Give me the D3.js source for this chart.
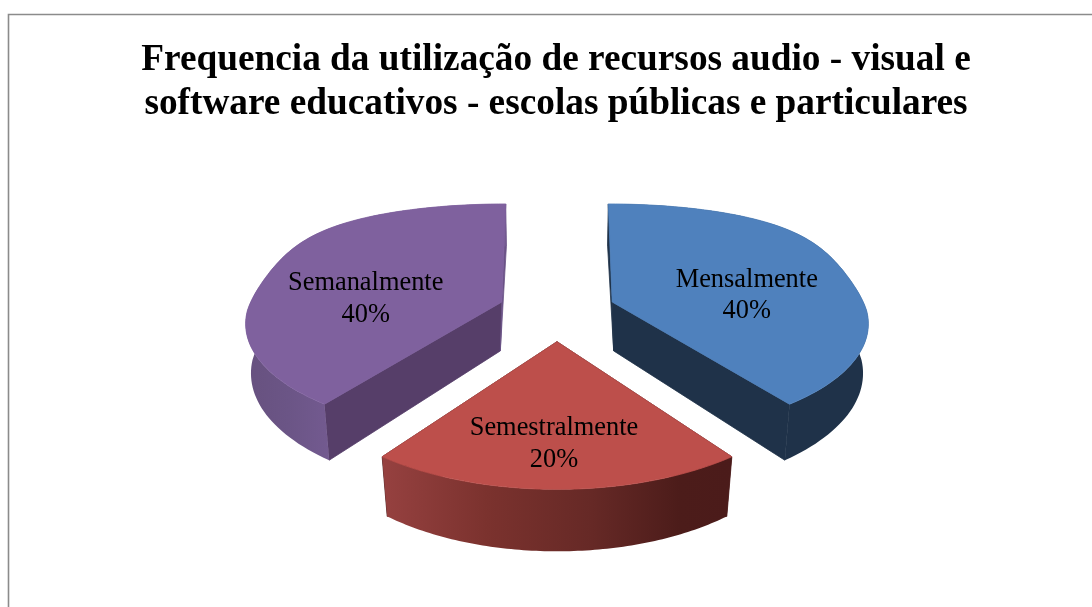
<!DOCTYPE html>
<html lang="pt">
<head>
<meta charset="utf-8">
<script src="https://cdn.jsdelivr.net/npm/d3@7/dist/d3.min.js"></script>
<style>
html,body{margin:0;padding:0;background:#fff;overflow:hidden}
svg{display:block;filter:blur(0.4px)}
text{font-family:"Liberation Serif","Times New Roman",serif;fill:#000}
</style>
</head>
<body>
<svg id="c" width="1092" height="607"></svg>
<script>
// Data
const categories = ["Mensalmente", "Semestralmente", "Semanalmente"];
const values = [40, 20, 40];
const titleLines = [
  "Frequencia da utilização de recursos audio - visual e",
  "software educativos - escolas públicas e particulares"
];

// Appearance of each slice, in category order
const topColors = ["#4f81bd", "#bd4f4b", "#7f619e"];
const wallColors = ["#1f3249", "#4b1b1a", "#563e69"];
const backWallColors = ["#1f3249", "#4b1b1a", "#6b5387"];
const rimStops = [
  [[0, "#1f3249"], [1, "#1f3249"]],
  [[0, "#964140"], [0.3, "#7b322e"], [0.6, "#662926"], [0.85, "#4c1c1a"], [1, "#4b1b1a"]],
  [[0, "#67517f"], [0.5, "#6b5586"], [1, "#735a90"]]
];
const rimRanges = [[610, 868], [382, 732], [246, 330]];
const widthFactor = [1, 0.967, 1];
const labelRadius = [0.56, 0.65, 0.56];
const labelShiftX = [5, -3, -6.5];
const labelShiftY = [3.5, 4, 7];

const svg = d3.select("#c");

// Frame
svg.append("path")
  .attr("d", "M1092,14.5H8.5V607")
  .attr("fill", "none").attr("stroke", "#8b8b8b").attr("stroke-width", 1.6);

// Title
svg.append("g").selectAll("text").data(titleLines).join("text")
  .attr("x", 556)
  .attr("y", (d, i) => 70 + i * 44)
  .attr("text-anchor", "middle")
  .attr("font-weight", "bold")
  .attr("font-size", 37.3)
  .text(d => d);

// Perspective of the pie plane
const sx = d3.scaleLinear().domain([0, 1]).range([557, 812]);
const sy = d3.scaleLinear().domain([0, 1]).range([311, 424]);
const perspective = 0.16, backPerspective = 0.13, thickness = 49.5;
const explodeX = 0.229, explodeY = 0.26;

const pie = d3.pie().sort(null).startAngle(0).endAngle(2 * Math.PI);
const arcs = pie(values);
const line = d3.line();

function planePoint(i, angle, r) {
  const a = arcs[i], mid = (a.startAngle + a.endAngle) / 2;
  const u0 = explodeX * Math.sin(mid), v0 = -explodeY * Math.cos(mid);
  const ru = r * Math.sin(angle) * widthFactor[i], rv = -r * Math.cos(angle);
  const v = v0 + rv, D = 1 - perspective * v;
  return { u0, ru, v, D,
    Dy: v < 0 ? 1 - backPerspective * v : D,
    Dr: D < 1 ? D : 1 + 0.05 * Math.sin(-v * Math.PI / 0.8),
    Du: D < 1 ? D : Math.sqrt(D),
    near: Math.cos(angle - mid) };
}
function topPoint(i, angle, r) {
  const p = planePoint(i, angle, r);
  return [sx(p.u0 / p.Du + p.ru / p.Dr), sy(p.v / p.Dy)];
}
function bottomPoint(i, angle, r) {
  const p = planePoint(i, angle, r);
  const fu = 1.03 - (p.v < 0 ? 0.04 * -p.v : 0);
  const fr = 0.955 + 0.02 * p.near;
  return [sx(fu * p.u0 / p.Du + fr * p.ru / p.Dr), sy(p.v / p.Dy) + thickness / p.D];
}
function arcAngles(a) {
  const n = 90;
  return d3.range(n + 1).map(k => a.startAngle + (a.endAngle - a.startAngle) * k / n);
}

// Rim gradients
const defs = svg.append("defs");
rimStops.forEach((stops, i) => {
  const g = defs.append("linearGradient")
    .attr("id", "rim" + i).attr("gradientUnits", "userSpaceOnUse")
    .attr("x1", rimRanges[i][0]).attr("x2", rimRanges[i][1])
    .attr("y1", 0).attr("y2", 0);
  stops.forEach(s => g.append("stop").attr("offset", s[0]).attr("stop-color", s[1]));
});

// Slices
[2, 0, 1].forEach(i => {
  const a = arcs[i], angles = arcAngles(a);
  const g = svg.append("g").attr("class", "slice");
  const wall = ang => line([topPoint(i, ang, 0), topPoint(i, ang, 1), bottomPoint(i, ang, 1), bottomPoint(i, ang, 0)]) + "Z";
  const isBack = ang => Math.cos(ang) > 0;
  [a.startAngle, a.endAngle].forEach(ang => {
    const c = isBack(ang) ? backWallColors[i] : wallColors[i];
    g.append("path").attr("d", wall(ang)).attr("fill", c).attr("stroke", c).attr("stroke-width", 0.8);
  });
  const rim = angles.map(t => topPoint(i, t, 1)).concat(angles.slice().reverse().map(t => bottomPoint(i, t, 1)));
  g.append("path").attr("d", line(rim) + "Z").attr("fill", `url(#rim${i})`);
  const face = [topPoint(i, a.startAngle, 0)].concat(angles.map(t => topPoint(i, t, 1)));
  g.append("path").attr("d", line(face) + "Z").attr("fill", topColors[i])
    .attr("stroke", topColors[i]).attr("stroke-width", 0.8);
});

// Labels
arcs.forEach((a, i) => {
  const mid = (a.startAngle + a.endAngle) / 2;
  const p = topPoint(i, mid, labelRadius[i]);
  const x = p[0] + labelShiftX[i], y = p[1] + labelShiftY[i];
  const pct = Math.round(100 * values[i] / d3.sum(values)) + "%";
  const t = svg.append("text")
    .attr("text-anchor", "middle")
    .attr("font-size", 26.4);
  t.append("tspan").attr("x", x).attr("y", y).text(categories[i]);
  t.append("tspan").attr("x", x).attr("y", y + 31.5).text(pct);
});
</script>
</body>
</html>
